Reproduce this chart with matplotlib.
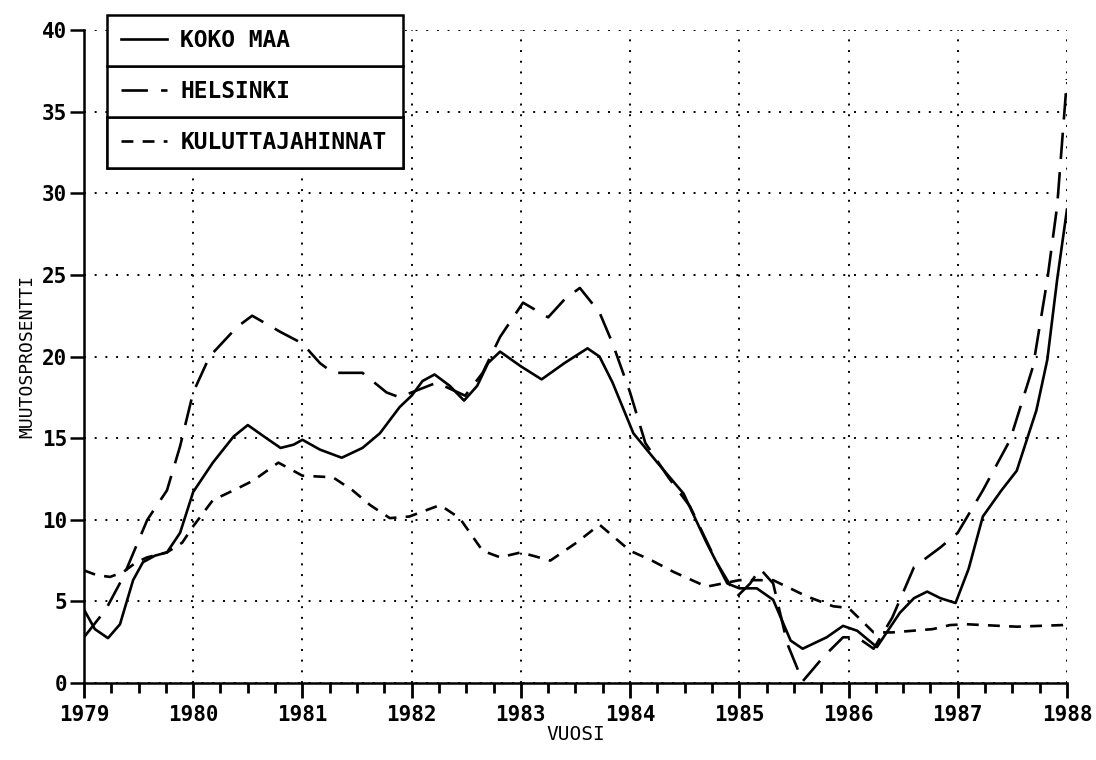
import numpy as np
import matplotlib.pyplot as plt
from matplotlib.ticker import MultipleLocator

# values (year, percent change)
koko_x = [1979.0, 1979.1, 1979.22, 1979.33, 1979.45, 1979.54, 1979.65, 1979.76, 1979.88,
          1980.0, 1980.18, 1980.37, 1980.5, 1980.67, 1980.8, 1980.92, 1981.0, 1981.16,
          1981.36, 1981.55, 1981.71, 1981.89, 1982.0, 1982.1, 1982.21, 1982.35, 1982.48,
          1982.6, 1982.7, 1982.81, 1983.0, 1983.19, 1983.4, 1983.61, 1983.72, 1983.84,
          1984.03, 1984.25, 1984.49, 1984.7, 1984.89, 1985.0, 1985.16, 1985.31, 1985.47,
          1985.58, 1985.8, 1985.95, 1986.08, 1986.26, 1986.47, 1986.6, 1986.72, 1986.84,
          1986.98, 1987.1, 1987.23, 1987.4, 1987.54, 1987.72, 1987.82, 1987.91, 1988.0]
koko_y = [4.5, 3.3, 2.75, 3.6, 6.3, 7.4, 7.8, 8.0, 9.2,
          11.7, 13.5, 15.1, 15.8, 15.0, 14.4, 14.6, 14.9, 14.3,
          13.8, 14.4, 15.3, 16.9, 17.6, 18.5, 18.9, 18.2, 17.3,
          18.2, 19.6, 20.3, 19.4, 18.6, 19.6, 20.5, 20.0, 18.4,
          15.3, 13.5, 11.6, 8.6, 6.1, 5.8, 5.8, 5.1, 2.6,
          2.1, 2.8, 3.5, 3.2, 2.2, 4.3, 5.2, 5.6, 5.2,
          4.9, 7.0, 10.2, 11.8, 13.0, 16.7, 19.8, 24.7, 29.0]

hki_x = [1979.0, 1979.2, 1979.36, 1979.58, 1979.76, 1979.88, 1980.0, 1980.15, 1980.4,
         1980.54, 1980.8, 1981.0, 1981.16, 1981.28, 1981.4, 1981.55, 1981.77, 1981.89,
         1982.0, 1982.23, 1982.49, 1982.65, 1982.81, 1983.02, 1983.25, 1983.4, 1983.54,
         1983.72, 1983.84, 1984.0, 1984.14, 1984.35, 1984.55, 1984.8, 1984.98, 1985.1,
         1985.19, 1985.31, 1985.44, 1985.58, 1985.77, 1985.95, 1986.08, 1986.23, 1986.4,
         1986.6, 1986.84, 1987.0, 1987.23, 1987.48, 1987.69, 1987.82, 1987.91, 1988.0]
hki_y = [2.8, 4.5, 6.5, 10.0, 11.8, 14.5, 17.8, 20.0, 21.8,
         22.5, 21.5, 20.8, 19.6, 19.0, 19.0, 19.0, 17.8, 17.5,
         17.8, 18.4, 17.6, 19.0, 21.2, 23.3, 22.4, 23.5, 24.2,
         22.7, 20.8, 17.8, 14.7, 12.6, 10.8, 7.3, 5.3, 6.1,
         7.0, 6.1, 2.4, 0.1, 1.6, 2.8, 2.8, 2.1, 4.0,
         7.1, 8.3, 9.2, 11.8, 14.9, 19.4, 24.7, 29.2, 37.0]

kul_x = [1979.0, 1979.12, 1979.24, 1979.36, 1979.48, 1979.58, 1979.76, 1979.9, 1980.0,
         1980.18, 1980.4, 1980.55, 1980.78, 1981.0, 1981.28, 1981.46, 1981.62, 1981.8,
         1981.98, 1982.26, 1982.44, 1982.65, 1982.81, 1983.0, 1983.27, 1983.51, 1983.72,
         1984.0, 1984.2, 1984.4, 1984.7, 1985.0, 1985.31, 1985.62, 1985.86, 1986.0,
         1986.23, 1986.4, 1986.77, 1986.93, 1987.08, 1987.54, 1987.96, 1988.0]
kul_y = [6.9, 6.6, 6.5, 6.8, 7.4, 7.7, 8.0, 8.6, 9.6,
         11.2, 11.9, 12.4, 13.5, 12.7, 12.6, 11.8, 10.9, 10.1,
         10.2, 10.9, 10.1, 8.1, 7.7, 8.0, 7.5, 8.6, 9.7,
         8.1, 7.5, 6.8, 5.9, 6.3, 6.3, 5.3, 4.7, 4.6,
         3.1, 3.1, 3.3, 3.55, 3.6, 3.45, 3.55, 3.6]

labels = ["KOKO MAA", "HELSINKI", "KULUTTAJAHINNAT"]

plt.rcParams['font.family'] = 'DejaVu Sans Mono'
plt.rcParams['font.weight'] = 'bold'

fig = plt.figure(figsize=(10.96, 7.6), dpi=100)
ax = fig.add_axes([0.0766, 0.1013, 0.8969, 0.8592])

l1, = ax.plot(koko_x, koko_y, color='black', lw=1.9, linestyle='-')
l2, = ax.plot(hki_x, hki_y, color='black', lw=1.9, linestyle=(0, (10, 5)))
l3, = ax.plot(kul_x, kul_y, color='black', lw=1.9, linestyle=(0, (4.5, 3.5)))

ax.set_xlim(1979, 1988)
ax.set_ylim(0, 40)
ax.xaxis.set_major_locator(MultipleLocator(1))
ax.xaxis.set_minor_locator(MultipleLocator(0.25))
ax.yaxis.set_major_locator(MultipleLocator(5))

ax.grid(True, which='major', color='black', linestyle=(0, (1, 4.5)), linewidth=1.4)
ax.spines['top'].set_visible(False)
ax.spines['right'].set_visible(False)
ax.spines['left'].set_linewidth(1.8)
ax.spines['bottom'].set_linewidth(1.8)

ax.tick_params(axis='x', which='major', direction='out', length=11, width=2,
               labelsize=15, pad=5)
ax.tick_params(axis='x', which='minor', direction='out', length=7, width=2)
ax.tick_params(axis='y', which='major', direction='out', length=10, width=1.8,
               labelsize=15, pad=2)

ax.set_xlabel("VUOSI", fontsize=14, labelpad=0)
ax.set_ylabel("MUUTOSPROSENTTI", fontsize=13, labelpad=4)

# legend: three stacked boxes
top = 1.023
row_h = 0.078
for i, (h, lab) in enumerate(zip([l1, l2, l3], labels)):
    leg = ax.legend([h], [lab], loc='upper left',
                    bbox_to_anchor=(0.023, top - (i + 1) * row_h, 0.302, row_h),
                    mode='expand', fontsize=16.5, frameon=True, fancybox=False,
                    borderpad=0.62, handlelength=2.0, handletextpad=0.6,
                    borderaxespad=0, framealpha=1)
    leg.get_frame().set_edgecolor('black')
    leg.get_frame().set_linewidth(1.8)
    leg.set_clip_on(False)
    leg.set_zorder(5 - i)
    ax.add_artist(leg)

fig.savefig('out.png', dpi=100)
